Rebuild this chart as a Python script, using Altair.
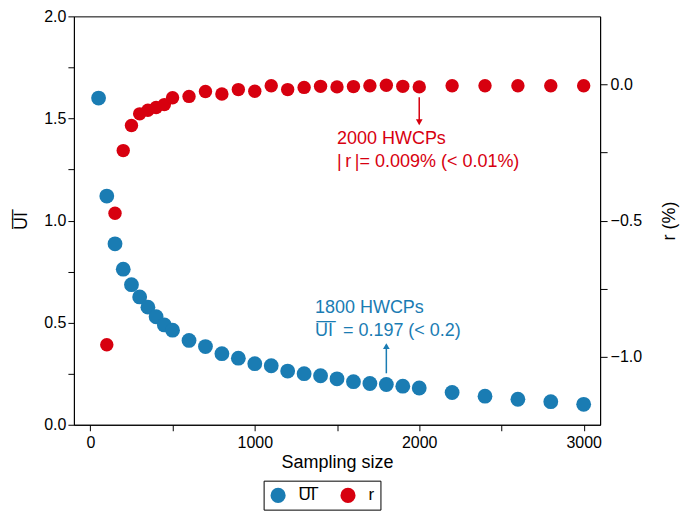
import altair as alt
import pandas as pd

UI_LABEL = "U\u0305I\u0305"
BLUE = "#1a7cb3"
RED = "#d7000f"
FONT = "Liberation Sans"

sizes = [50, 100, 150, 200, 250, 300, 350, 400, 450, 500, 600, 700, 800, 900, 1000,
         1100, 1200, 1300, 1400, 1500, 1600, 1700, 1800, 1900, 2000, 2200, 2400, 2600, 2800, 3000]
ui_values = [1.60, 1.12, 0.886, 0.762, 0.686, 0.626, 0.576, 0.529, 0.489, 0.463, 0.413, 0.383,
             0.348, 0.326, 0.299, 0.289, 0.263, 0.250, 0.240, 0.225, 0.211, 0.202, 0.197, 0.189,
             0.180, 0.158, 0.140, 0.125, 0.113, 0.100]
r_sizes = sizes[1:]
r_values = [-0.956, -0.473, -0.243, -0.151, -0.108, -0.095, -0.085, -0.074, -0.049, -0.044,
            -0.026, -0.035, -0.019, -0.025, -0.005, -0.019, -0.011, -0.007, -0.009, -0.008,
            -0.005, -0.003, -0.007, -0.009, -0.005, -0.005, -0.005, -0.005, -0.005]

ui_note_lines = ["1800 HWCPs", UI_LABEL + " \u00a0= 0.197 (< 0.2)"]
r_note_lines = ["2000 HWCPs", "|\u2009r\u2009|= 0.009% (< 0.01%)"]

df_ui = pd.DataFrame({"size": sizes, "v": ui_values, "series": UI_LABEL})
df_r = pd.DataFrame({"size": r_sizes, "v": r_values, "series": "r"})

XD = [-100, 3100]
UID = [0, 2.0]
RD = [-1.25, 0.25]

def xs():
    return alt.Scale(domain=XD, nice=False, zero=False)

def xenc():
    return alt.X("size:Q", scale=xs(),
                 axis=alt.Axis(title="Sampling size", values=list(range(0, 3001, 500)),
                               labelExpr="datum.value % 1000 == 0 ? datum.value : ''",
                               labelPadding=4, titlePadding=3))

color_scale = alt.Scale(domain=[UI_LABEL, "r"], range=[BLUE, RED])
legend = alt.Legend(orient="none", legendX=190, legendY=465, direction="horizontal",
                    title=None, strokeColor="black", padding=6, symbolSize=230,
                    symbolType="circle", labelFontSize=17, labelOffset=12,
                    columnPadding=24, symbolStrokeWidth=0)

ui_pts = alt.Chart(df_ui).mark_circle(size=220, opacity=1).encode(
    x=xenc(),
    y=alt.Y("v:Q", scale=alt.Scale(domain=UID, nice=False),
            axis=alt.Axis(title=UI_LABEL, orient="left",
                          values=[i * 0.25 for i in range(9)],
                          labelExpr="datum.value % 0.5 == 0 ? format(datum.value, '.1f') : ''",
                          labelPadding=2, titlePadding=13)),
    color=alt.Color("series:N", scale=color_scale, legend=legend),
)

ui_note = pd.DataFrame({"size": [1366, 1366], "v": [0.573, 0.46], "t": ui_note_lines})
ui_text = alt.Chart(ui_note).mark_text(align="left", baseline="middle", fontSize=18,
                                       font=FONT, color=BLUE).encode(
    x=alt.X("size:Q", scale=xs()),
    y=alt.Y("v:Q", scale=alt.Scale(domain=UID, nice=False)),
    text="t:N")

ui_arrow_df = pd.DataFrame({"size": [1800], "v": [0.252], "v2": [0.39]})
ui_rule = alt.Chart(ui_arrow_df).mark_rule(color=BLUE, strokeWidth=1.5).encode(
    x=alt.X("size:Q", scale=xs()),
    y=alt.Y("v:Q", scale=alt.Scale(domain=UID, nice=False)),
    y2="v2:Q")
ui_head_df = pd.DataFrame({"size": [1800], "v": [0.385]})
ui_head = alt.Chart(ui_head_df).mark_point(shape="triangle-up", filled=True, size=45,
                                           color=BLUE, opacity=1).encode(
    x=alt.X("size:Q", scale=xs()),
    y=alt.Y("v:Q", scale=alt.Scale(domain=UID, nice=False)))

left = alt.layer(ui_pts, ui_text, ui_rule, ui_head)

r_pts = alt.Chart(df_r).mark_circle(size=180, opacity=1).encode(
    x=xenc(),
    y=alt.Y("v:Q", scale=alt.Scale(domain=RD, nice=False, zero=False),
            axis=alt.Axis(title="r (%)", orient="right",
                          values=[-1.0, -0.75, -0.5, -0.25, 0.0],
                          labelExpr="abs(datum.value % 0.5) < 1e-9 ? format(datum.value, '.1f') : ''",
                          labelPadding=3, tickSize=7, titlePadding=37, titleAngle=270)),
    color=alt.Color("series:N", scale=color_scale, legend=legend),
)

r_note = pd.DataFrame({"size": [1500, 1500], "v": [-0.2, -0.285], "t": r_note_lines})
r_text = alt.Chart(r_note).mark_text(align="left", baseline="middle", fontSize=18,
                                     font=FONT, color=RED).encode(
    x=alt.X("size:Q", scale=xs()),
    y=alt.Y("v:Q", scale=alt.Scale(domain=RD, nice=False, zero=False)),
    text="t:N")

r_arrow_df = pd.DataFrame({"size": [2000], "v": [-0.047], "v2": [-0.136]})
r_rule = alt.Chart(r_arrow_df).mark_rule(color=RED, strokeWidth=1.5).encode(
    x=alt.X("size:Q", scale=xs()),
    y=alt.Y("v:Q", scale=alt.Scale(domain=RD, nice=False, zero=False)),
    y2="v2:Q")
r_head_df = pd.DataFrame({"size": [2000], "v": [-0.139]})
r_head = alt.Chart(r_head_df).mark_point(shape="triangle-down", filled=True, size=45,
                                         color=RED, opacity=1).encode(
    x=alt.X("size:Q", scale=xs()),
    y=alt.Y("v:Q", scale=alt.Scale(domain=RD, nice=False, zero=False)))

right = alt.layer(r_pts, r_text, r_rule, r_head)

chart = alt.layer(left, right).resolve_scale(y="independent").properties(
    width=527, height=409,
    autosize=alt.AutoSizeParams(type="none"),
    padding={"left": 66, "top": 8, "right": 80, "bottom": 86},
).configure_view(stroke="black", strokeWidth=1).configure_axis(
    domainColor="black", tickColor="black", labelColor="black", titleColor="black",
    grid=False, labelFont=FONT, titleFont=FONT, labelFontSize=16, titleFontSize=18,
    titleFontWeight="normal", tickSize=6, domainWidth=1, tickWidth=1,
).configure_legend(labelFont=FONT, labelColor="black")

chart.save("out.html", embed_options={"renderer": "svg", "actions": False})
